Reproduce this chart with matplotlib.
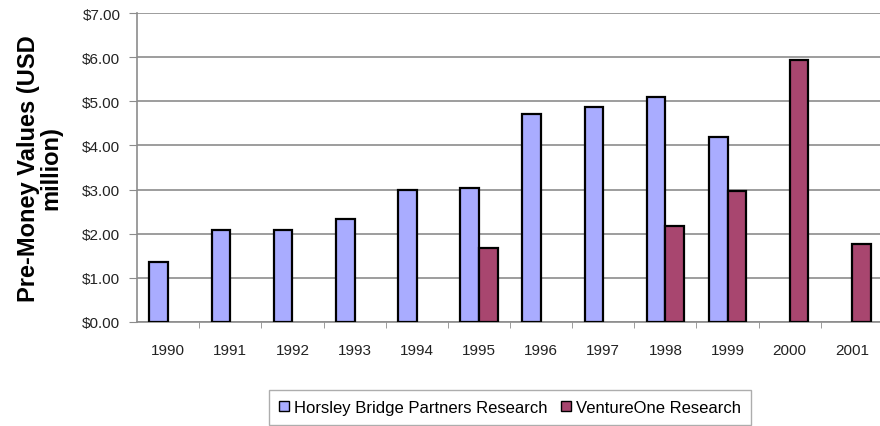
import matplotlib.pyplot as plt
import matplotlib.patches as mpatches
import numpy as np

plt.rcParams['font.family'] = ['Liberation Sans', 'DejaVu Sans']

years = ["1990", "1991", "1992", "1993", "1994", "1995",
         "1996", "1997", "1998", "1999", "2000", "2001"]
horsley = [1.36, 2.09, 2.09, 2.34, 2.98, 3.03,
           4.72, 4.87, 5.10, 4.20, np.nan, np.nan]
ventureone = [np.nan, np.nan, np.nan, np.nan, np.nan, 1.67,
              np.nan, np.nan, 2.18, 2.97, 5.94, 1.76]
ytick_labels = ["$0.00", "$1.00", "$2.00", "$3.00",
                "$4.00", "$5.00", "$6.00", "$7.00"]

blue = "#a9acff"
plum = "#a8466f"

fig = plt.figure(figsize=(8.8, 4.27), dpi=100)
ax = fig.add_axes([0.1557, 0.2436, 0.8477, 0.7234])

x = np.arange(len(years))
w = 0.3
ax.bar(x - w / 2, horsley, w, color=blue, edgecolor="black", linewidth=1.6,
       zorder=3)
ax.bar(x + w / 2, ventureone, w, color=plum, edgecolor="black", linewidth=1.6,
       zorder=3)

ax.set_xlim(-0.5, len(years) - 0.5)
ax.set_ylim(0, 7)
ax.set_yticks(range(8))
ax.set_yticklabels(ytick_labels, fontsize=11, color="#222222")
ax.yaxis.grid(True, color="#8c8c8c", linewidth=1.2, zorder=0)

# category labels centred, tick marks between categories
ax.set_xticks(x)
ax.set_xticklabels(years, fontsize=11, color="#222222")
ax.tick_params(axis="x", length=0, pad=15)
ax.set_xticks(np.arange(len(years)) + 0.5, minor=True)
ax.tick_params(axis="x", which="minor", length=4, color="#8c8c8c")
ax.tick_params(axis="y", length=6, color="#8c8c8c", pad=6)

for side in ["top", "right"]:
    ax.spines[side].set_visible(False)
ax.spines["left"].set_color("#8c8c8c")
ax.spines["bottom"].set_color("#8c8c8c")
ax.spines["left"].set_linewidth(1.2)
ax.spines["bottom"].set_linewidth(1.2)

ax.set_ylabel("Pre-Money Values (USD\nmillion)", fontsize=17,
              fontweight="bold", linespacing=1.0, labelpad=14)

handles = [mpatches.Patch(facecolor=blue, edgecolor="black"),
           mpatches.Patch(facecolor=plum, edgecolor="black")]
leg = fig.legend(handles, ["Horsley Bridge Partners Research",
                           "VentureOne Research"],
                 loc="upper center", bbox_to_anchor=(510 / 880, 1 - 391 / 427),
                 ncol=2, fontsize=12, frameon=True, fancybox=False,
                 handlelength=0.6, handleheight=0.6, handletextpad=0.3,
                 columnspacing=0.8, borderpad=0.6, borderaxespad=0)
leg.get_frame().set_edgecolor("#999999")

fig.savefig("out.png", dpi=100)
